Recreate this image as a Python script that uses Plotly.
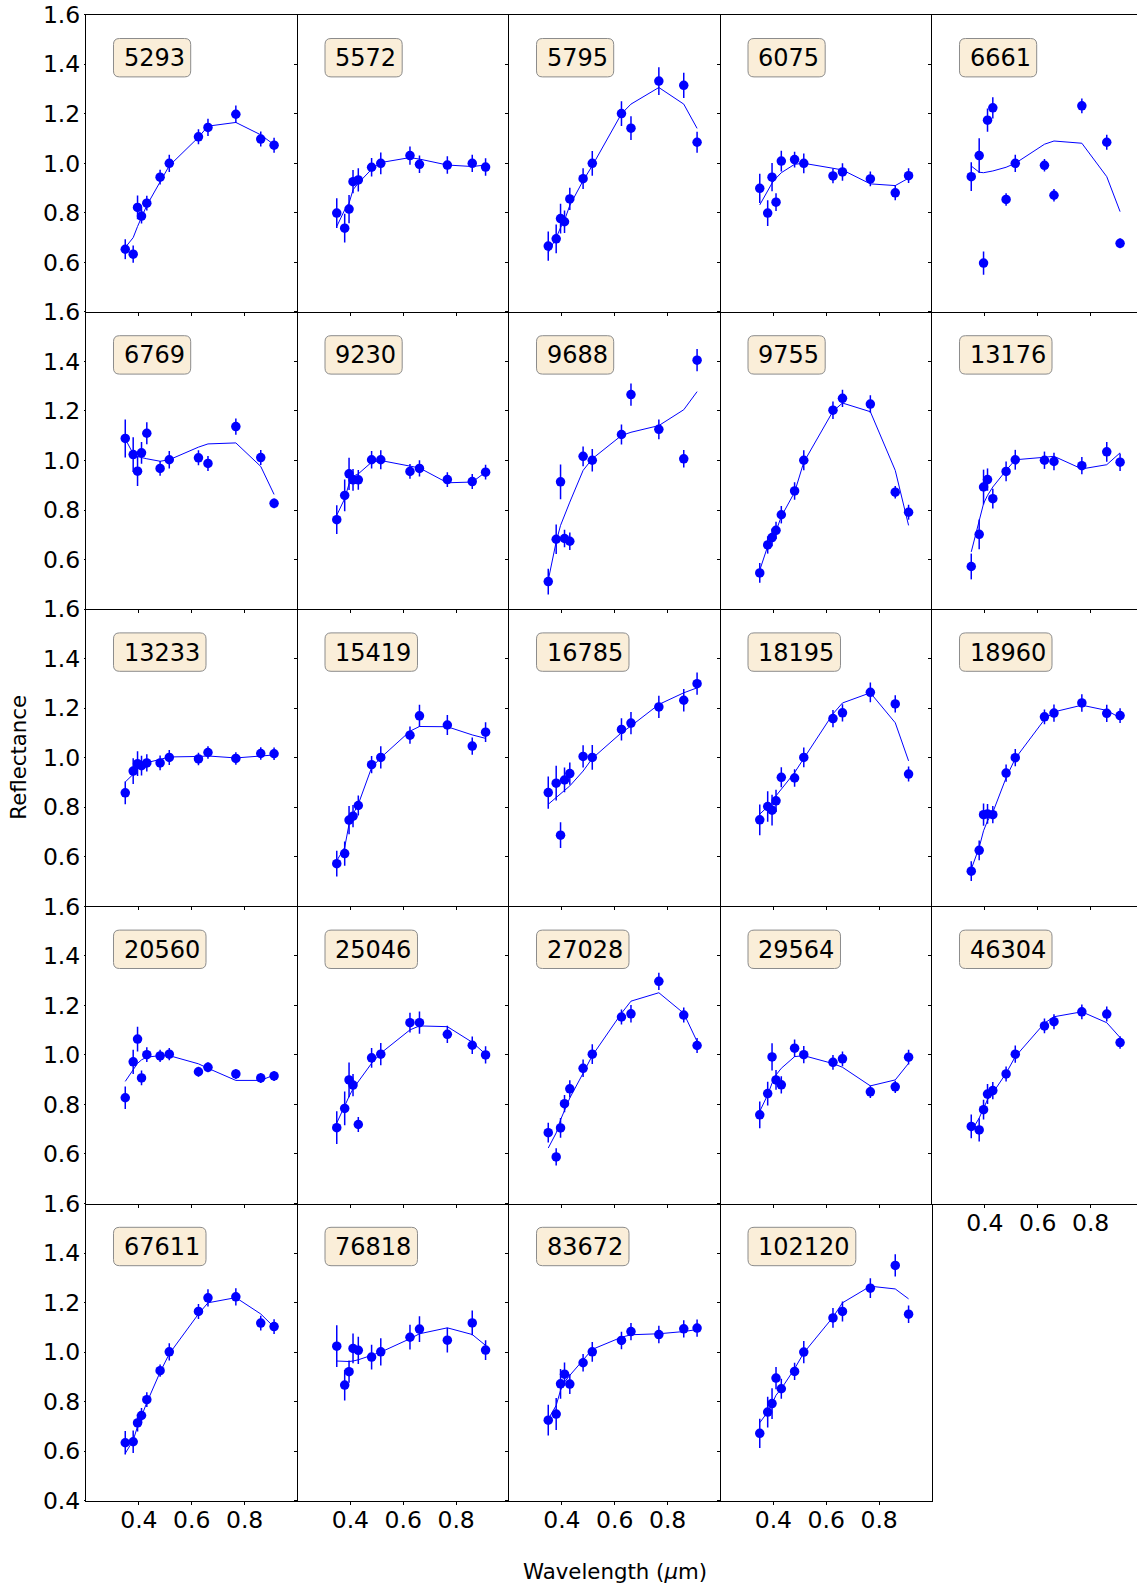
import plotly.graph_objects as go

# S-PLUS filter effective wavelengths (micron)
wavelength = [0.3485, 0.3785, 0.3950, 0.4100, 0.4300, 0.4803,
              0.5150, 0.6254, 0.6614, 0.7668, 0.8610, 0.9114]

asteroids = ["5293", "5572", "5795", "6075", "6661",
             "6769", "9230", "9688", "9755", "13176",
             "13233", "15419", "16785", "18195", "18960",
             "20560", "25046", "27028", "29564", "46304",
             "67611", "76818", "83672", "102120"]

# Normalised reflectance per asteroid (one row per asteroid, one value per filter)
reflectance = [
    [0.653, 0.633, 0.822, 0.787, 0.839, 0.944, 1.000, 1.107, 1.145, 1.198, 1.098, 1.073],
    [0.799, 0.738, 0.815, 0.926, 0.933, 0.984, 1.000, 1.031, 0.996, 0.993, 1.000, 0.985],
    [0.666, 0.695, 0.777, 0.764, 0.856, 0.938, 1.000, 1.201, 1.142, 1.332, 1.315, 1.085],
    [0.899, 0.799, 0.944, 0.843, 1.009, 1.015, 1.000, 0.949, 0.965, 0.937, 0.881, 0.950],
    [0.946, 1.031, 0.597, 1.174, 1.224, 0.854, 1.000, 0.992, 0.871, 1.232, 1.085, 0.677],
    [1.089, 1.024, 0.957, 1.031, 1.110, 0.968, 1.003, 1.011, 0.988, 1.137, 1.012, 0.827],
    [0.761, 0.859, 0.946, 0.922, 0.922, 1.003, 1.003, 0.956, 0.968, 0.923, 0.915, 0.953],
    [0.511, 0.682, 0.914, 0.685, 0.674, 1.017, 1.001, 1.105, 1.266, 1.126, 1.007, 1.405],
    [0.546, 0.659, 0.689, 0.718, 0.781, 0.877, 1.001, 1.203, 1.251, 1.228, 0.872, 0.791],
    [0.572, 0.702, 0.893, 0.923, 0.846, 0.956, 1.003, 1.001, 0.996, 0.979, 1.035, 0.993],
    [0.858, 0.946, 0.976, 0.968, 0.979, 0.979, 1.001, 0.995, 1.021, 0.997, 1.017, 1.016],
    [0.572, 0.613, 0.748, 0.764, 0.807, 0.972, 1.001, 1.091, 1.169, 1.132, 1.047, 1.103],
    [0.859, 0.897, 0.687, 0.910, 0.936, 1.005, 1.001, 1.114, 1.140, 1.205, 1.232, 1.299],
    [0.749, 0.803, 0.788, 0.826, 0.921, 0.918, 1.001, 1.158, 1.181, 1.264, 1.217, 0.934],
    [0.542, 0.626, 0.770, 0.773, 0.770, 0.938, 1.000, 1.165, 1.180, 1.221, 1.179, 1.170],
    [0.827, 0.972, 1.064, 0.907, 1.001, 0.996, 1.003, 0.932, 0.950, 0.923, 0.907, 0.915],
    [0.706, 0.784, 0.899, 0.878, 0.719, 0.988, 1.003, 1.130, 1.130, 1.083, 1.039, 1.000],
    [0.686, 0.588, 0.705, 0.803, 0.863, 0.946, 1.003, 1.153, 1.166, 1.297, 1.161, 1.038],
    [0.758, 0.844, 0.992, 0.899, 0.879, 1.027, 1.001, 0.970, 0.984, 0.851, 0.871, 0.991],
    [0.711, 0.697, 0.779, 0.842, 0.856, 0.923, 1.003, 1.117, 1.134, 1.174, 1.165, 1.050],
    [0.634, 0.638, 0.714, 0.744, 0.808, 0.925, 1.001, 1.164, 1.219, 1.223, 1.117, 1.103],
    [1.024, 0.867, 0.921, 1.015, 1.007, 0.980, 1.001, 1.060, 1.093, 1.048, 1.118, 1.008],
    [0.725, 0.750, 0.872, 0.911, 0.871, 0.957, 1.001, 1.047, 1.083, 1.071, 1.094, 1.097],
    [0.672, 0.758, 0.792, 0.895, 0.852, 0.922, 1.000, 1.138, 1.164, 1.258, 1.350, 1.153],
]

# 1-sigma uncertainties of the reflectance values
reflectance_err = [
    [0.040, 0.035, 0.048, 0.030, 0.030, 0.030, 0.035, 0.030, 0.035, 0.035, 0.030, 0.030],
    [0.060, 0.058, 0.057, 0.047, 0.047, 0.037, 0.044, 0.037, 0.035, 0.035, 0.035, 0.035],
    [0.059, 0.058, 0.060, 0.045, 0.045, 0.042, 0.050, 0.050, 0.048, 0.056, 0.051, 0.042],
    [0.059, 0.052, 0.057, 0.036, 0.042, 0.032, 0.040, 0.030, 0.035, 0.030, 0.030, 0.030],
    [0.058, 0.070, 0.047, 0.047, 0.043, 0.025, 0.035, 0.025, 0.025, 0.030, 0.030, 0.020],
    [0.077, 0.070, 0.060, 0.044, 0.044, 0.030, 0.035, 0.030, 0.030, 0.033, 0.030, 0.020],
    [0.058, 0.064, 0.065, 0.044, 0.040, 0.035, 0.038, 0.030, 0.033, 0.030, 0.030, 0.030],
    [0.052, 0.060, 0.070, 0.035, 0.035, 0.040, 0.045, 0.040, 0.045, 0.040, 0.035, 0.045],
    [0.040, 0.035, 0.035, 0.035, 0.035, 0.035, 0.040, 0.035, 0.035, 0.035, 0.025, 0.030],
    [0.052, 0.060, 0.070, 0.045, 0.040, 0.040, 0.040, 0.035, 0.035, 0.035, 0.040, 0.035],
    [0.046, 0.052, 0.050, 0.040, 0.035, 0.030, 0.030, 0.025, 0.025, 0.025, 0.025, 0.025],
    [0.052, 0.049, 0.057, 0.045, 0.040, 0.035, 0.045, 0.035, 0.045, 0.040, 0.035, 0.040],
    [0.065, 0.070, 0.052, 0.050, 0.045, 0.045, 0.050, 0.045, 0.045, 0.045, 0.045, 0.045],
    [0.062, 0.062, 0.062, 0.045, 0.040, 0.035, 0.040, 0.035, 0.035, 0.040, 0.035, 0.030],
    [0.040, 0.040, 0.045, 0.040, 0.035, 0.035, 0.035, 0.030, 0.035, 0.035, 0.035, 0.030],
    [0.045, 0.049, 0.050, 0.030, 0.030, 0.025, 0.025, 0.020, 0.020, 0.020, 0.020, 0.020],
    [0.066, 0.068, 0.070, 0.045, 0.030, 0.040, 0.045, 0.040, 0.045, 0.035, 0.035, 0.035],
    [0.040, 0.035, 0.040, 0.035, 0.035, 0.035, 0.040, 0.030, 0.035, 0.035, 0.030, 0.030],
    [0.054, 0.048, 0.055, 0.040, 0.035, 0.035, 0.035, 0.030, 0.030, 0.025, 0.025, 0.030],
    [0.048, 0.047, 0.040, 0.040, 0.035, 0.030, 0.035, 0.030, 0.030, 0.030, 0.030, 0.025],
    [0.047, 0.045, 0.035, 0.030, 0.030, 0.025, 0.035, 0.030, 0.035, 0.035, 0.030, 0.030],
    [0.084, 0.062, 0.045, 0.060, 0.055, 0.050, 0.055, 0.050, 0.052, 0.050, 0.050, 0.040],
    [0.062, 0.065, 0.060, 0.047, 0.040, 0.035, 0.040, 0.035, 0.035, 0.035, 0.035, 0.035],
    [0.059, 0.062, 0.062, 0.045, 0.040, 0.035, 0.045, 0.040, 0.040, 0.040, 0.045, 0.035],
]

# Best-fitting model spectrum evaluated at the filter wavelengths
model = [
    [0.660, 0.700, 0.745, 0.780, 0.830, 0.925, 0.990, 1.105, 1.150, 1.165, 1.115, 1.075],
    [0.745, 0.812, 0.839, 0.893, 0.920, 0.976, 1.003, 1.023, 1.017, 0.993, 0.987, 0.993],
    [0.640, 0.700, 0.740, 0.770, 0.830, 0.930, 0.990, 1.200, 1.239, 1.306, 1.239, 1.141],
    [0.832, 0.886, 0.920, 0.940, 0.962, 0.996, 1.000, 0.980, 0.973, 0.917, 0.910, 0.940],
    [0.989, 0.964, 0.962, 0.964, 0.969, 0.984, 1.000, 1.077, 1.090, 1.081, 0.946, 0.805],
    [1.087, 1.027, 1.016, 1.011, 1.007, 0.997, 1.003, 1.054, 1.067, 1.071, 0.976, 0.863],
    [0.779, 0.846, 0.906, 0.936, 0.946, 0.993, 1.000, 0.977, 0.970, 0.910, 0.913, 0.953],
    [0.517, 0.672, 0.738, 0.779, 0.832, 0.960, 1.007, 1.101, 1.114, 1.141, 1.205, 1.278],
    [0.557, 0.654, 0.689, 0.715, 0.774, 0.872, 0.993, 1.199, 1.232, 1.197, 0.960, 0.738],
    [0.631, 0.758, 0.826, 0.859, 0.893, 0.960, 1.003, 1.013, 1.017, 0.966, 0.983, 1.031],
    [0.902, 0.933, 0.960, 0.970, 0.980, 0.993, 1.003, 1.005, 1.007, 0.999, 1.007, 1.011],
    [0.584, 0.638, 0.732, 0.772, 0.812, 0.960, 1.000, 1.107, 1.126, 1.125, 1.092, 1.078],
    [0.812, 0.839, 0.852, 0.866, 0.886, 0.946, 0.997, 1.101, 1.128, 1.215, 1.262, 1.282],
    [0.772, 0.805, 0.819, 0.846, 0.872, 0.940, 0.997, 1.177, 1.221, 1.262, 1.141, 0.987],
    [0.550, 0.638, 0.705, 0.745, 0.779, 0.919, 0.997, 1.154, 1.185, 1.212, 1.191, 1.161],
    [0.893, 0.940, 0.966, 0.980, 0.991, 0.997, 0.997, 0.964, 0.946, 0.897, 0.897, 0.919],
    [0.725, 0.796, 0.832, 0.863, 0.893, 0.966, 1.007, 1.101, 1.117, 1.114, 1.051, 1.003],
    [0.624, 0.685, 0.738, 0.779, 0.826, 0.926, 0.997, 1.168, 1.217, 1.251, 1.168, 1.054],
    [0.772, 0.839, 0.886, 0.919, 0.946, 0.993, 0.997, 0.965, 0.950, 0.875, 0.899, 0.966],
    [0.691, 0.745, 0.785, 0.819, 0.846, 0.926, 0.993, 1.128, 1.154, 1.174, 1.130, 1.070],
    [0.591, 0.644, 0.700, 0.745, 0.796, 0.919, 0.993, 1.154, 1.199, 1.220, 1.154, 1.101],
    [0.964, 0.962, 0.962, 0.964, 0.969, 0.987, 1.000, 1.054, 1.074, 1.098, 1.071, 1.027],
    [0.729, 0.785, 0.846, 0.879, 0.906, 0.966, 1.011, 1.060, 1.070, 1.074, 1.083, 1.091],
    [0.715, 0.758, 0.792, 0.826, 0.852, 0.933, 0.997, 1.141, 1.199, 1.266, 1.255, 1.215],
]

x_ticks = [0.4, 0.6, 0.8]
y_ticks_upper = [0.6, 0.8, 1.0, 1.2, 1.4, 1.6]
y_ticks_bottom = [0.4, 0.6, 0.8, 1.0, 1.2, 1.4, 1.6]

# ---- page geometry (pixels) ----
W, H = 1137, 1586
GRID_LEFT, GRID_TOP = 86.0, 14.7
CELL_W, CELL_H = 211.5, 297.2
NCOL, NROW = 5, 5
X_MIN, X_MAX = 0.2, 1.0
Y_MIN, Y_MAX = 0.4, 1.6

FONT = "DejaVu Sans"
TICK_SIZE = 23.5
LABEL_SIZE = 21.3
BLUE = "#0000ff"


def px_x(x):
    return x / W


def px_y(y):
    return 1.0 - y / H


def rounded_box(x0, y0, x1, y1, r):
    """SVG path of a rounded rectangle in paper coordinates (input in px)."""
    pts = [
        ("M", (x0 + r, y0)), ("L", (x1 - r, y0)), ("Q", (x1, y0), (x1, y0 + r)),
        ("L", (x1, y1 - r)), ("Q", (x1, y1), (x1 - r, y1)),
        ("L", (x0 + r, y1)), ("Q", (x0, y1), (x0, y1 - r)),
        ("L", (x0, y0 + r)), ("Q", (x0, y0), (x0 + r, y0)),
    ]
    out = []
    for cmd, *coords in pts:
        out.append(cmd + " " + " ".join(f"{px_x(a):.6f},{px_y(b):.6f}" for a, b in coords))
    return " ".join(out) + " Z"


fig = go.Figure()
layout = dict(
    width=W, height=H,
    margin=dict(l=0, r=0, t=0, b=0, pad=0, autoexpand=False),
    paper_bgcolor="white", plot_bgcolor="white",
    showlegend=False,
    font=dict(family=FONT, color="black", size=TICK_SIZE),
)
shapes = []
annotations = []

n_panels = len(asteroids)
for i, name in enumerate(asteroids):
    row, col = divmod(i, NCOL)
    k = i + 1
    xa = "x" if k == 1 else f"x{k}"
    ya = "y" if k == 1 else f"y{k}"

    left = GRID_LEFT + col * CELL_W
    right_full = left + CELL_W
    right = min(right_full, W)
    top = GRID_TOP + row * CELL_H
    bottom = top + CELL_H
    # the last column runs past the page edge: keep the same data scale
    x_hi = X_MIN + (X_MAX - X_MIN) * (right - left) / CELL_W

    last_in_col = (i + NCOL >= n_panels)
    xaxis = dict(
        domain=[px_x(left), px_x(right)],
        range=[X_MIN, x_hi],
        anchor=ya,
        tickvals=x_ticks,
        ticktext=[f"{v:.1f}" for v in x_ticks],
        ticks="outside", ticklen=3, tickwidth=1, tickcolor="black",
        ticklabelstandoff=-5,
        showticklabels=last_in_col,
        showline=True, linecolor="black", linewidth=1,
        mirror=(row == 0),
        showgrid=False, zeroline=False, automargin=False,
        tickfont=dict(family=FONT, size=TICK_SIZE, color="black"),
    )
    yvals = y_ticks_bottom if row == NROW - 1 else y_ticks_upper
    yaxis = dict(
        domain=[px_y(bottom), px_y(top)],
        range=[Y_MIN, Y_MAX],
        anchor=xa,
        tickvals=yvals,
        ticktext=[f"{v:.1f}" for v in yvals],
        ticks="outside", ticklen=(1 if col == 0 else 3), tickwidth=1, tickcolor="black",
        ticklabelstandoff=-1,
        showticklabels=(col == 0),
        showline=True, linecolor="black", linewidth=1,
        mirror=(i == n_panels - 1),
        showgrid=False, zeroline=False, automargin=False,
        tickfont=dict(family=FONT, size=TICK_SIZE, color="black"),
    )
    layout["xaxis" if k == 1 else f"xaxis{k}"] = xaxis
    layout["yaxis" if k == 1 else f"yaxis{k}"] = yaxis

    # model curve
    fig.add_trace(go.Scatter(
        x=wavelength, y=model[i], xaxis=xa, yaxis=ya,
        mode="lines", line=dict(color=BLUE, width=1),
        hoverinfo="skip",
    ))
    # measured reflectance with error bars
    fig.add_trace(go.Scatter(
        x=wavelength, y=reflectance[i], xaxis=xa, yaxis=ya,
        mode="markers",
        marker=dict(color=BLUE, size=9.5, line=dict(width=0)),
        error_y=dict(type="data", array=reflectance_err[i], visible=True,
                     color=BLUE, thickness=1.5, width=0),
        cliponaxis=False,
    ))

    # asteroid number in a rounded label box
    box_x0 = left + 27.5
    box_y0 = top + 23.8
    box_w = 16 + 15.3 * len(name)
    box_h = 38.4
    shapes.append(dict(
        type="path", xref="paper", yref="paper",
        path=rounded_box(box_x0, box_y0, box_x0 + box_w, box_y0 + box_h, 6),
        fillcolor="#faeed9", line=dict(color="#8c8c8c", width=1), layer="above",
    ))
    annotations.append(dict(
        x=px_x(box_x0 + 8), y=px_y(box_y0 + box_h / 2 + 0.5),
        xref="paper", yref="paper", xanchor="left", yanchor="middle",
        text=name, showarrow=False,
        font=dict(family=FONT, size=24, color="black"),
    ))

# axis titles
annotations.append(dict(
    x=px_x(19), y=px_y(GRID_TOP + NROW * CELL_H / 2),
    xref="paper", yref="paper", xanchor="center", yanchor="middle",
    text="Reflectance", textangle=-90, showarrow=False,
    font=dict(family=FONT, size=LABEL_SIZE, color="black"),
))
annotations.append(dict(
    x=px_x(GRID_LEFT + NCOL * CELL_W / 2), y=px_y(1571),
    xref="paper", yref="paper", xanchor="center", yanchor="middle",
    text="Wavelength (<i>μ</i>m)", showarrow=False,
    font=dict(family=FONT, size=LABEL_SIZE, color="black"),
))

layout["shapes"] = shapes
layout["annotations"] = annotations
fig.update_layout(**layout)

fig.write_html("out.html")
